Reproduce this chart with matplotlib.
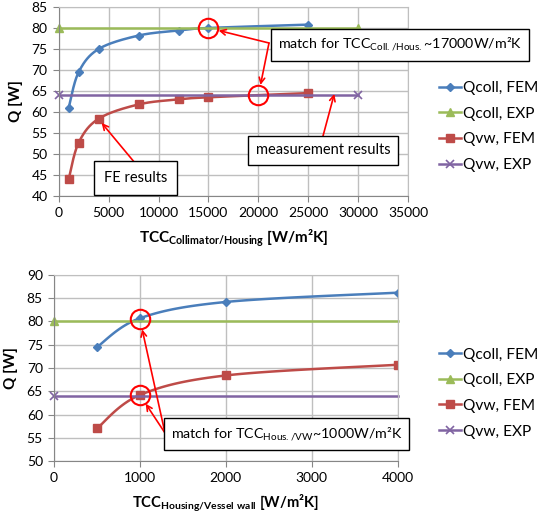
import numpy as np
import matplotlib
matplotlib.use("Agg")
import matplotlib.pyplot as plt

plt.rcParams['font.family'] = ['Lato', 'DejaVu Sans']
plt.rcParams['mathtext.fontset'] = 'custom'
plt.rcParams['mathtext.rm'] = 'Lato'
plt.rcParams['mathtext.bf'] = 'Lato:bold'

# top chart data: TCC collimator/housing
tcc_ch = [1000, 2000, 4000, 8000, 12000, 15000, 25000]
qcoll_fem_top = [61.0, 69.5, 75.0, 78.2, 79.4, 80.0, 80.8]
qvw_fem_top = [44.0, 52.7, 58.4, 61.8, 63.0, 63.5, 64.5]
exp_x_top = [0, 30000]
qcoll_exp_top = [80, 80]
qvw_exp_top = [64, 64]
match_top_x = [15000, 20000]
match_top_y = [80, 64]

# bottom chart data: TCC housing/vessel wall
tcc_hv = [500, 1000, 2000, 4000]
qcoll_fem_bot = [74.5, 80.7, 84.2, 86.2]
qvw_fem_bot = [57.0, 64.2, 68.4, 70.7]
exp_x_bot = [0, 4000]
qcoll_exp_bot = [80, 80]
qvw_exp_bot = [64, 64]
match_bot_x = [1000, 1000]
match_bot_y = [80.5, 64.2]

labels = ["Qcoll, FEM", "Qcoll, EXP", "Qvw, FEM", "Qvw, EXP"]
c_blue, c_green, c_red, c_purple = "#4A7EBB", "#9BBB59", "#BE4B48", "#8064A2"
grid_c = "#BFBFBF"
axis_c = "#868686"


def smooth(x, y, n=30):
    # catmull-rom style smoothing like excel's smoothed lines
    x = np.asarray(x, float)
    y = np.asarray(y, float)
    px = np.concatenate([[x[0]], x, [x[-1]]])
    py = np.concatenate([[y[0]], y, [y[-1]]])
    xs, ys = [], []
    t = np.linspace(0, 1, n)
    for i in range(1, len(px) - 2):
        p0x, p1x, p2x, p3x = px[i - 1:i + 3]
        p0y, p1y, p2y, p3y = py[i - 1:i + 3]
        # bezier control points
        c1x = p1x + (p2x - p0x) / 6
        c1y = p1y + (p2y - p0y) / 6
        c2x = p2x - (p3x - p1x) / 6
        c2y = p2y - (p3y - p1y) / 6
        bx = (1 - t)**3 * p1x + 3 * (1 - t)**2 * t * c1x + 3 * (1 - t) * t**2 * c2x + t**3 * p2x
        by = (1 - t)**3 * p1y + 3 * (1 - t)**2 * t * c1y + 3 * (1 - t) * t**2 * c2y + t**3 * p2y
        xs.extend(bx)
        ys.extend(by)
    return np.array(xs), np.array(ys)


def style_axes(ax):
    ax.grid(True, color=grid_c, linewidth=1)
    ax.set_axisbelow(True)
    for s in ax.spines.values():
        s.set_color(grid_c)
    ax.spines['left'].set_color(axis_c)
    ax.spines['bottom'].set_color(axis_c)
    ax.tick_params(direction='out', length=4, color=axis_c, labelsize=10,
                   labelcolor='black', pad=4)
    ax.set_ylabel("Q [W]", fontsize=11, fontweight='bold', labelpad=6)


def draw_series(ax, fx, f1, f2, ex, e1, e2):
    ends = [0] if ex[-1] == 4000 else None
    sx, sy = smooth(fx, f1)
    ax.plot(sx, sy, color=c_blue, lw=1.8)
    ax.plot(fx, f1, 'D', color=c_blue, ms=4.5)
    ax.plot(ex, e1, color=c_green, lw=1.8, marker='^', ms=6,
            markevery=ends, clip_on=False)
    sx, sy = smooth(fx, f2)
    ax.plot(sx, sy, color=c_red, lw=1.8)
    ax.plot(fx, f2, 's', color=c_red, ms=6)
    ax.plot(ex, e2, color=c_purple, lw=1.8, marker='x', ms=6, mew=1.2,
            markevery=ends, clip_on=False)
    # legend proxies with marker in middle
    hs = [
        plt.Line2D([], [], color=c_blue, lw=1.8, marker='D', ms=4.5),
        plt.Line2D([], [], color=c_green, lw=1.8, marker='^', ms=6),
        plt.Line2D([], [], color=c_red, lw=1.8, marker='s', ms=6),
        plt.Line2D([], [], color=c_purple, lw=1.8, marker='x', ms=6, mew=1.2),
    ]
    return hs


fig = plt.figure(figsize=(5.41, 5.17), dpi=100)

# ---- top chart
ax1 = fig.add_axes([0.1085, 0.6209, 0.646, 0.3656])
hs = draw_series(ax1, tcc_ch, qcoll_fem_top, qvw_fem_top, exp_x_top, qcoll_exp_top, qvw_exp_top)
ax1.plot(match_top_x, match_top_y, 'o', mfc='none', mec='red', ms=14, mew=1.5, clip_on=False)
ax1.set_xlim(0, 35000)
ax1.set_ylim(40, 85)
ax1.set_xticks(np.arange(0, 35001, 5000))
ax1.set_yticks(np.arange(40, 86, 5))
style_axes(ax1)
ax1.set_xlabel(r"TCC$_{\mathbf{Collimator/Housing}}$ [W/m²K]", fontsize=11,
               fontweight='bold', labelpad=6)
leg_kw = dict(loc='center left', frameon=False, fontsize=11.2, handlelength=1.4,
              handletextpad=0.15, labelspacing=0.75, borderpad=0, borderaxespad=0)
fig.legend(hs, labels, bbox_to_anchor=(0.812, 0.755), **leg_kw)

arrow = dict(arrowstyle='->', color='red', lw=1.2, shrinkA=0)
box = dict(boxstyle='square,pad=0.5', fc='white', ec='black', lw=1)
start = (269 / 541, 1 - 43 / 517)
for mx, my in zip(match_top_x, match_top_y):
    ax1.annotate('', xy=(mx, my), xytext=start, textcoords='figure fraction',
                 arrowprops=dict(arrow, shrinkB=7.5), annotation_clip=False)
fig.text(0.7394, 0.9139, r"match for TCC$_{\mathrm{Coll./Hous.}}$~17000W/m²K",
         ha='center', va='center', fontsize=10.3, bbox=box)

ax1.annotate('', xy=(27600, 64.3), xytext=(323 / 541, 1 - 136 / 517),
             textcoords='figure fraction', arrowprops=dict(arrow, shrinkB=0))
fig.text(0.597, 0.7089, "measurement results", ha='center', va='center',
         fontsize=10.5, bbox=box)

ax1.annotate('', xy=(4300, 57.4), xytext=(135 / 541, 1 - 163 / 517),
             textcoords='figure fraction', arrowprops=dict(arrow, shrinkB=0))
fig.text(0.2505, 0.6557, "FE results", ha='center', va='center',
         fontsize=10.5, bbox=dict(box, boxstyle='square,pad=0.7'))

# ---- bottom chart
ax2 = fig.add_axes([0.0998, 0.1083, 0.6353, 0.3598])
hs = draw_series(ax2, tcc_hv, qcoll_fem_bot, qvw_fem_bot, exp_x_bot, qcoll_exp_bot, qvw_exp_bot)
ax2.plot(match_bot_x, match_bot_y, 'o', mfc='none', mec='red', ms=14, mew=1.5, clip_on=False)
ax2.set_xlim(0, 4000)
ax2.set_ylim(50, 90)
ax2.set_xticks(np.arange(0, 4001, 1000))
ax2.set_yticks(np.arange(50, 91, 5))
style_axes(ax2)
ax2.set_xlabel(r"TCC$_{\mathbf{Housing/Vessel\ wall}}$ [W/m²K]", fontsize=10.6,
               fontweight='bold', labelpad=6)
fig.legend(hs, labels, bbox_to_anchor=(0.812, 0.2398), **leg_kw)

start = (165 / 541, 1 - 433 / 517)
for mx, my in zip(match_bot_x, match_bot_y):
    ax2.annotate('', xy=(mx, my), xytext=start, textcoords='figure fraction',
                 arrowprops=dict(arrow, shrinkB=7.5), annotation_clip=False)
fig.text(0.5296, 0.1605, r"match for TCC$_{\mathrm{Hous./VW}}$~1000W/m²K",
         ha='center', va='center', fontsize=10.3, bbox=box)

fig.savefig("out.png", dpi=100)
